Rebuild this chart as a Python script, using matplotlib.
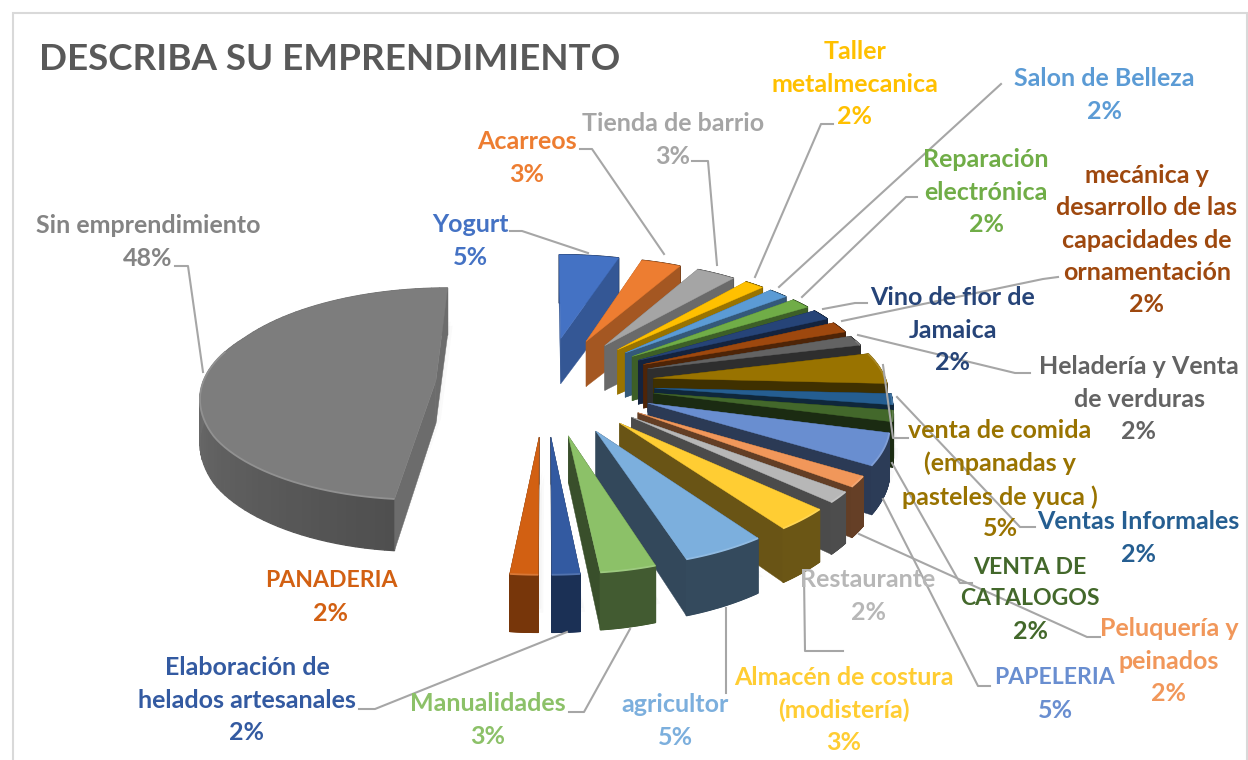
import numpy as np
import matplotlib
matplotlib.use("Agg")
import matplotlib.pyplot as plt
from matplotlib.colors import to_rgb
from matplotlib.patches import Polygon

plt.rcParams["font.family"] = ["Lato", "DejaVu Sans"]

title = "DESCRIBA SU EMPRENDIMIENTO"

names = [
    "Yogurt", "Acarreos", "Tienda de barrio", "Taller\nmetalmecanica", "Salon de Belleza",
    "Reparación\nelectrónica", "Vino de flor de\nJamaica",
    "mecánica y\ndesarrollo de las\ncapacidades de\nornamentación",
    "Heladería y Venta\nde verduras", "venta de comida\n(empanadas y\npasteles de yuca )",
    "Ventas Informales", "VENTA DE\nCATALOGOS", "PAPELERIA", "Peluquería y\npeinados",
    "Restaurante", "Almacén de costura\n(modistería)", "agricultor", "Manualidades",
    "Elaboración de\nhelados artesanales", "PANADERIA", "Sin emprendimiento",
]
counts = [3, 2, 2, 1, 1, 1, 1, 1, 1, 3, 1, 1, 3, 1, 1, 2, 3, 2, 1, 1, 30]
colors = [
    "#4472C4", "#ED7D31", "#A5A5A5", "#FFC000", "#5B9BD5", "#70AD47", "#264478",
    "#9E480E", "#636363", "#997300", "#255E91", "#43682B", "#698ED0", "#F1975A",
    "#B7B7B7", "#FFCD33", "#7CAFDD", "#8CC168", "#335AA1", "#D26012", "#848484",
]

# label centres in image pixels
label_xy = [
    (470, 240), (527, 157), (673, 139), (855, 83), (1104, 94), (986, 191), (953, 329),
    (1147, 239), (1139, 398), (1000, 479), (1138, 537), (1030, 598), (1055, 693),
    (1169, 660), (868, 595), (844, 709), (675, 720), (488, 719), (247, 699), (331, 596),
    (148, 241),
]

leaders = [
    [(510, 231), (522, 231), (588, 253)],
    [(580, 149), (592, 149), (664, 254)],
    [(692, 161), (708, 161), (717, 265)],
    [(833, 124), (821, 124), (755, 277)],
    [(1001, 84), (779, 287)],
    [(917, 197), (906, 197), (802, 297)],
    [(867, 303), (855, 303), (823, 309)],
    [(1058, 277), (1043, 279), (842, 321)],
    [(1030, 373), (1015, 373), (858, 335)],
    [(883, 365), (893, 438), (908, 438)],
    [(897, 397), (1020, 527), (1035, 527)],
    [(892, 463), (960, 583), (972, 583)],
    [(883, 499), (978, 686), (990, 686)],
    [(859, 534), (1087, 637), (1100, 637)],
    [(804, 575), (805, 651), (843, 651)],
    [(726, 608), (726, 693)],
    [(630, 629), (584, 712), (569, 712)],
    [(567, 632), (375, 709), (359, 709)],
    [(175, 266), (188, 266), (203, 372)],
]

# projection of the tilted pie onto the image
x0, y_hor = 545, -160
ax_u, top_b = 233, 535
k_x, expl = 0.12, 0.47
line_h = 32.3


def project(u, v, low=False):
    wy = np.interp(v, [-1.5, -0.47, 0.47, 1.5], [0.723, 0.896, 1.074, 1.298])
    b = top_b + (42 + 14 * np.maximum(v, 0)) if low else top_b
    return np.column_stack([x0 + ax_u * u / (1 + k_x * v), y_hor + b / wy])


def shade(c, f):
    return tuple(min(1, x * f) for x in to_rgb(c))


def mix_white(c, f):
    return tuple(x + (1 - x) * f for x in to_rgb(c))


fig = plt.figure(figsize=(12.48, 7.6), dpi=100)
ax = fig.add_axes([0, 0, 1, 1])
ax.set_xlim(0, 1248)
ax.set_ylim(760, 0)
ax.axis("off")

ax.add_patch(plt.Rectangle((12.5, 12.5), 1234, 800, fc="white", ec="#D9D9D9", lw=1.5))

counts = np.array(counts, dtype=float)
total = counts.sum()
stop = np.cumsum(counts) / total * 2 * np.pi
start = stop - counts / total * 2 * np.pi
mid = (start + stop) / 2

# soft shadow first
for i in range(len(counts)):
    a = np.linspace(start[i], stop[i], 60)
    ou = expl * np.sin(mid[i])
    ov = expl * np.cos(mid[i])
    u = np.r_[ou, ou + np.sin(a)]
    v = np.r_[ov, ov + np.cos(a)]
    for off, alpha in [(10, 0.04), (6, 0.04), (2, 0.04)]:
        pts = project(u, v) + np.array([off / 2, 28 + off])
        ax.add_patch(Polygon(pts, fc="#808080", ec="none", alpha=alpha, zorder=1))

# back slices first, front ones over them
order = np.argsort(-np.cos(mid))
for z, i in enumerate(order):
    c = colors[i]
    a = np.linspace(start[i], stop[i], 80)
    ou = expl * np.sin(mid[i])
    ov = expl * np.cos(mid[i])
    rim_u = ou + np.sin(a)
    rim_v = ov + np.cos(a)
    deg = np.degrees(mid[i])
    is_big = deg > 200

    if not is_big:
        cut_f = max(0.41, 0.8 - 0.39 * deg / 85)
        rim_f = np.full(len(a), np.interp(deg, [160, 185], [0.42, 0.58]))
        top_c = c
    else:
        cut_f = 0.82
        rim_f = np.interp(np.degrees(a), [186, 280], [0.6, 0.84])
        top_c = shade(c, 0.95)

    up = project(rim_u, rim_v)
    lo = project(rim_u, rim_v, True)
    # back slices hide the rim behind the cut faces, front ones the other way round
    zo_rim = 2 + z + (0.2 if np.cos(mid[i]) > 0 else 0.6)
    zo_cut = 2 + z + 0.4
    zo_top = 2 + z + 0.8

    # cut faces, farther one first
    ends = [(rim_u[0], rim_v[0]), (rim_u[-1], rim_v[-1])]
    ends.sort(key=lambda e: -e[1])
    for eu, ev in ends:
        us = np.array([ou, eu])
        vs = np.array([ov, ev])
        quad = np.vstack([project(us, vs), project(us, vs, True)[::-1]])
        ax.add_patch(Polygon(quad, fc=shade(c, cut_f), ec=shade(c, cut_f), lw=0.3, zorder=zo_cut))

    # rim, in short pieces so that the big slice can shade along its edge
    for j in range(len(a) - 1):
        piece = np.vstack([up[j:j + 2], lo[j:j + 2][::-1]])
        col = shade(c, rim_f[j])
        ax.add_patch(Polygon(piece, fc=col, ec=col, lw=0.9, zorder=zo_rim))

    # top face and small bevel on the rim
    face = project(np.r_[ou, rim_u], np.r_[ov, rim_v])
    ax.add_patch(Polygon(face, fc=top_c, ec=top_c, lw=0.3, zorder=zo_top))
    front = rim_v < ov + 0.3
    ax.plot(up[front, 0], up[front, 1], color=mix_white(top_c, 0.15), lw=1.3, zorder=zo_top,
            solid_capstyle="butt")

for pts in leaders:
    p = np.array(pts)
    ax.plot(p[:, 0], p[:, 1], color="#A6A6A6", lw=1.5, zorder=60)

for name, n, c, (x, y) in zip(names, counts, colors, label_xy):
    pct = round(100 * n / total)
    rows = name.count("\n") + 1
    # Lato capitals run wider than the reference's
    size = 16.6 if name.isupper() else 18
    ax.text(x, y + 1 - line_h / 2, name, color=c, fontsize=size, fontweight="bold", ha="center",
            va="center", linespacing=1.5 * 18 / size, zorder=70)
    ax.text(x, y + 1 + rows * line_h / 2, f"{pct}%", color=c, fontsize=18, fontweight="bold",
            ha="center", va="center", zorder=70)

ax.text(39, 60, title, color="#595959", fontsize=26.5, fontweight="bold", ha="left", va="center",
        zorder=70)

fig.savefig("out.png", dpi=100)
